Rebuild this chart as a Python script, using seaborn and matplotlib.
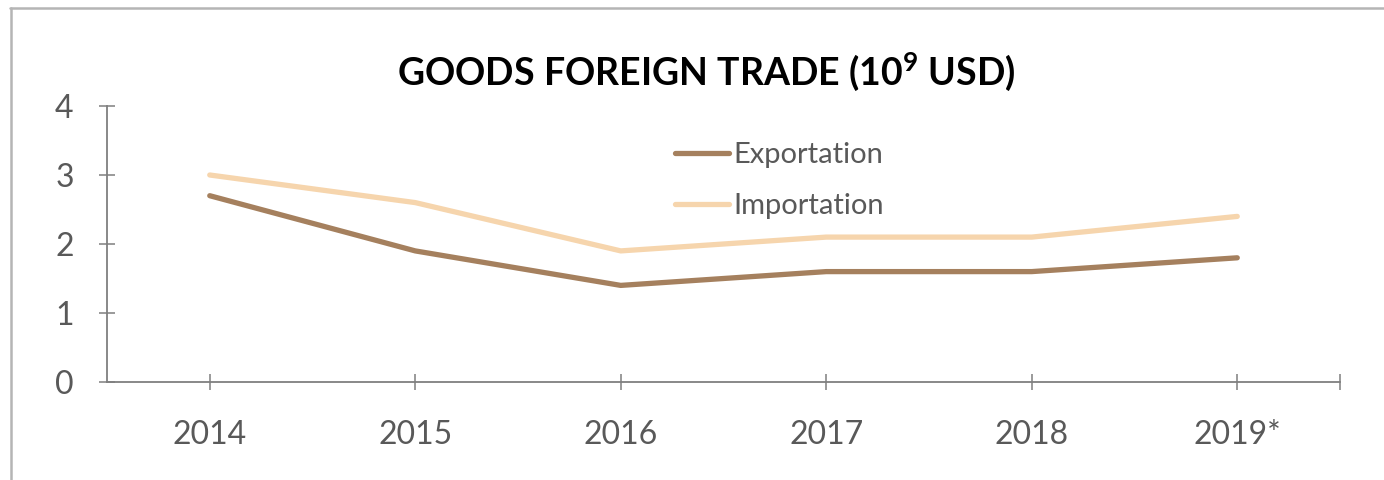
import matplotlib
matplotlib.use("Agg")
import matplotlib.pyplot as plt
import seaborn as sns
import pandas as pd
from matplotlib.lines import Line2D

years = ["2014", "2015", "2016", "2017", "2018", "2019*"]
exportation = [2.7, 1.9, 1.4, 1.6, 1.6, 1.8]
importation = [3.0, 2.6, 1.9, 2.1, 2.1, 2.4]
series_names = ["Exportation", "Importation"]
series_colors = ["#A5805E", "#F6D5AD"]
y_ticks = [0, 1, 2, 3, 4]
title_text = "GOODS FOREIGN TRADE (10$^{9}$ USD)"

sns.set_theme(style="white")
plt.rcParams["font.family"] = ["Lato", "DejaVu Sans"]
plt.rcParams["mathtext.fontset"] = "custom"
plt.rcParams["mathtext.rm"] = "Lato:bold"
plt.rcParams["mathtext.it"] = "Lato:bold"
plt.rcParams["mathtext.bf"] = "Lato:bold"

df = pd.DataFrame({
    "year": years * 2,
    "value": exportation + importation,
    "series": [series_names[0]] * len(years) + [series_names[1]] * len(years),
})
df["pos"] = list(range(len(years))) * 2

W, H = 1384, 480
fig = plt.figure(figsize=(W / 100, H / 100), dpi=100)
ax = fig.add_axes([107 / W, 1 - 382 / H, (1340 - 107) / W, (382 - 106) / H])

sns.lineplot(data=df, x="pos", y="value", hue="series", palette=series_colors,
             linewidth=3.8, ax=ax, legend=False, solid_capstyle="round")

axis_col = "#7F7F7F"
txt_col = "#595959"

ax.set_xlim(-0.5, len(years) - 0.5)
ax.set_ylim(0, 4)
ax.set_xticks(range(len(years)))
ax.set_xticklabels(years)
ax.set_xticks([len(years) - 0.5], minor=True)
ax.set_yticks(y_ticks)
ax.set_xlabel("")
ax.set_ylabel("")

for s in ["top", "right"]:
    ax.spines[s].set_visible(False)
for s in ["left", "bottom"]:
    ax.spines[s].set_color(axis_col)
    ax.spines[s].set_linewidth(1.3)

ax.tick_params(axis="both", which="both", direction="inout", length=12, width=1.1,
               color=axis_col, labelcolor=txt_col, labelsize=23)
ax.tick_params(axis="x", which="major", pad=21, bottom=True)
ax.tick_params(axis="x", which="minor", bottom=True)
ax.tick_params(axis="y", which="major", pad=18, left=True)

handles = [Line2D([0], [0], color=c, lw=3.8, solid_capstyle="round") for c in series_colors]
leg = ax.legend(handles, series_names, loc="upper left",
                bbox_to_anchor=((675 - 107) / 1233, (382 - 142) / 276),
                frameon=False, fontsize=21, handlelength=1.85, handletextpad=0.15,
                labelspacing=0.85, borderpad=0, borderaxespad=0)
for t in leg.get_texts():
    t.set_color(txt_col)

fig.text(706 / W, 1 - 85 / H, title_text, ha="center", va="baseline",
         fontsize=27, fontweight="bold", color="black")

# outer border
fig.add_artist(Line2D([10 / W, 1.0], [1 - 7.5 / H, 1 - 7.5 / H], transform=fig.transFigure,
                      color="#B5B5B5", lw=1.8))
fig.add_artist(Line2D([10.5 / W, 10.5 / W], [0, 1 - 7.5 / H], transform=fig.transFigure,
                      color="#B5B5B5", lw=1.8))

fig.savefig("out.png", dpi=100)
